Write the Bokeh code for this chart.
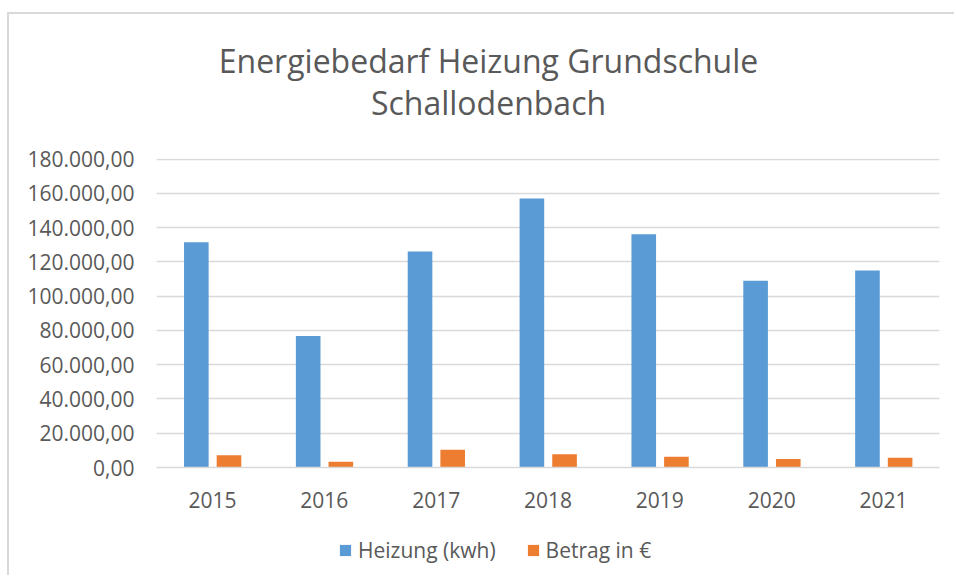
from bokeh.plotting import figure
from bokeh.layouts import column
from bokeh.models import ColumnDataSource, FactorRange, Range1d, FixedTicker, Label, Legend, LegendItem
from bokeh.transform import dodge
from bokeh.embed import file_html
from bokeh.resources import INLINE

years = ["2015", "2016", "2017", "2018", "2019", "2020", "2021"]
heizung_kwh = [131400, 76700, 126100, 156900, 136100, 109000, 115000]
betrag_eur = [7200, 3300, 10300, 7800, 6200, 4900, 5700]
y_ticks = [0, 20000, 40000, 60000, 80000, 100000, 120000, 140000, 160000, 180000]
y_tick_labels = ["0,00", "20.000,00", "40.000,00", "60.000,00", "80.000,00",
                 "100.000,00", "120.000,00", "140.000,00", "160.000,00", "180.000,00"]
title_lines = ["Energiebedarf Heizung Grundschule", "Schallodenbach"]
series_names = ["Heizung (kwh)", "Betrag in €"]

FONT = "Open Sans"
GREY = "#595959"
BLUE = "#5B9BD5"
ORANGE = "#ED7D31"
W = 945
LEFT = 147
RIGHT = 15


def bare(height):
    f = figure(width=W, height=height, x_range=Range1d(0, 1), y_range=Range1d(0, 1),
               output_backend="svg", toolbar_location=None, x_axis_type=None, y_axis_type=None,
               min_border_left=LEFT, min_border_right=RIGHT, min_border_top=0, min_border_bottom=0)
    f.outline_line_color = None
    f.grid.grid_line_color = None
    return f


# ---- title block (label positions relative to the aligned frame) ----
tfig = bare(116)
tfig.add_layout(Label(x=332, y=70, x_units="screen", y_units="screen", text=title_lines[0],
                      text_align="center", text_baseline="middle", text_font=FONT,
                      text_font_size="32px", text_color=GREY))
tfig.add_layout(Label(x=332, y=28, x_units="screen", y_units="screen", text=title_lines[1],
                      text_align="center", text_baseline="middle", text_font=FONT,
                      text_font_size="32px", text_color=GREY))

# ---- main chart ----
src = ColumnDataSource(dict(year=years, heizung=heizung_kwh, betrag=betrag_eur))

p = figure(width=W, height=395, x_range=FactorRange(*years, range_padding=0),
           y_range=Range1d(0, 180300), output_backend="svg", toolbar_location=None,
           min_border_left=LEFT, min_border_right=RIGHT, min_border_top=28, min_border_bottom=58)
p.outline_line_color = None

p.vbar(x=dodge("year", -0.144, range=p.x_range), top="heizung", width=0.22,
       source=src, fill_color=BLUE, line_color=None)
p.vbar(x=dodge("year", 0.148, range=p.x_range), top="betrag", width=0.22,
       source=src, fill_color=ORANGE, line_color=None)

p.xgrid.grid_line_color = None
p.ygrid.grid_line_color = "#d9d9d9"
p.ygrid.grid_line_width = 1.5
p.yaxis.ticker = FixedTicker(ticks=y_ticks)
p.yaxis.major_label_overrides = {t: l for t, l in zip(y_ticks, y_tick_labels)}
p.yaxis.axis_line_color = None
p.yaxis.major_tick_line_color = None
p.yaxis.minor_tick_line_color = None
p.yaxis.major_label_standoff = 16
p.yaxis.major_label_text_font = FONT
p.yaxis.major_label_text_font_size = "21px"
p.yaxis.major_label_text_color = GREY

p.xaxis.axis_line_color = "#d9d9d9"
p.xaxis.axis_line_width = 1.5
p.xaxis.major_tick_line_color = None
p.xaxis.minor_tick_line_color = None
p.xaxis.major_label_standoff = 18
p.xaxis.major_label_text_font = FONT
p.xaxis.major_label_text_font_size = "21px"
p.xaxis.major_label_text_color = GREY

# ---- legend block (swatch renderers sit outside the visible range) ----
lfig = bare(50)
g1 = lfig.vbar(x=[-10], top=[0], width=0.2, fill_color=BLUE, line_color=None)
g2 = lfig.vbar(x=[-10], top=[0], width=0.2, fill_color=ORANGE, line_color=None)
legend = Legend(items=[LegendItem(label=series_names[0], renderers=[g1]),
                       LegendItem(label=series_names[1], renderers=[g2])],
                orientation="horizontal", location=(182, 11),
                glyph_width=14, glyph_height=14, label_standoff=6, spacing=30,
                padding=0, margin=0, label_height=20,
                label_text_font=FONT, label_text_font_size="21px", label_text_color=GREY,
                border_line_color=None, background_fill_alpha=0)
lfig.add_layout(legend, "center")

layout = column(tfig, p, lfig, spacing=0, margin=(12, 0, 0, 7),
                styles={"border-left": "2px solid #d9d9d9", "border-top": "2px solid #d9d9d9"})
open("out.html", "w").write(file_html(layout, INLINE))
